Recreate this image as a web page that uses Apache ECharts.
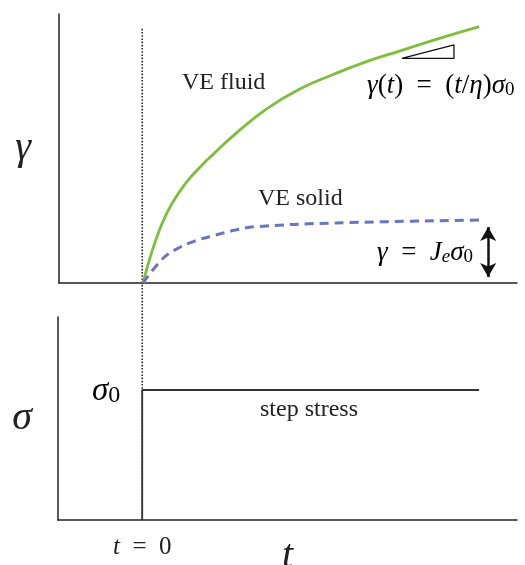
<!DOCTYPE html>
<html><head><meta charset="utf-8">
<script src="https://cdn.jsdelivr.net/npm/echarts@6/dist/echarts.min.js"></script>
<style>html,body{margin:0;padding:0;background:#fff}#c{width:525px;height:565px}</style>
</head><body><div id="c"></div>
<script>
// ---- data ----
const fluidT     = [0, 0.143, 0.30, 0.50, 0.70, 0.84, 1.075, 1.47, 1.87, 2.27, 2.66, 3.06, 3.46, 4.0];
const fluidGamma = [0, 1.52, 2.70, 3.68, 4.38, 4.80, 5.48, 6.47, 7.22, 7.76, 8.23, 8.63, 9.03, 9.53];
const solidT     = [0, 0.22, 0.38, 0.60, 0.86, 1.10, 1.33, 2.26, 4.0];
const solidGamma = [0, 0.86, 1.23, 1.54, 1.78, 1.97, 2.09, 2.23, 2.34];
const stressT     = [0, 0, 4.0];
const stressSigma = [0, 1, 1];
const slopeT     = [3.08, 3.70, 3.70, 3.08];
const slopeGamma = [8.35, 8.35, 8.85, 8.35];
const startT     = [0, 0];
const startSigma = [0, 3.78];
const arrowT     = [4.107, 4.107];
const arrowGamma = [0.22, 2.08];
const tickValues = [0];

const zip = (a, b) => a.map((v, i) => [v, b[i]]);
const SERIF = '"Liberation Serif", "DejaVu Serif", serif';
const INK = '#222';
const mathRich = (fs) => ({
  i: { fontFamily: SERIF, fontStyle: 'italic', fontSize: fs, lineHeight: fs + 6, color: INK, verticalAlign: 'bottom' },
  r: { fontFamily: SERIF, fontSize: fs, lineHeight: fs + 6, color: INK, verticalAlign: 'bottom' },
  s: { fontFamily: SERIF, fontSize: Math.round(fs * 0.72), lineHeight: Math.round(fs * 0.5), color: INK, verticalAlign: 'bottom' },
  si: { fontFamily: SERIF, fontStyle: 'italic', fontSize: Math.round(fs * 0.72), lineHeight: Math.round(fs * 0.5), color: INK, verticalAlign: 'bottom' }
});

const chart = echarts.init(document.getElementById('c'), null, { renderer: 'canvas' });
const axisLine = { show: true, onZero: false, lineStyle: { color: INK, width: 1.5 } };
const hidden = { axisTick: { show: false }, splitLine: { show: false } };

chart.setOption({
  animation: false,
  backgroundColor: '#fff',
  grid: [
    { left: 59, top: 14, right: 8, height: 269, outerBoundsMode: 'none', containLabel: false },
    { left: 58, top: 317, right: 8, height: 203, outerBoundsMode: 'none', containLabel: false }
  ],
  xAxis: [
    Object.assign({ gridIndex: 0, type: 'value', min: -1, max: 4.45, axisLine, axisLabel: { show: false } }, hidden),
    Object.assign({ gridIndex: 1, type: 'value', min: -1, max: 4.45, axisLine,
      name: 't', nameLocation: 'middle', nameGap: 16, nameMoveOverlap: false,
      nameTextStyle: { fontFamily: SERIF, fontStyle: 'italic', fontSize: 40, color: INK },
      axisLabel: { show: true, customValues: tickValues, margin: 9,
        formatter: () => '{i|t}{r|  =  0}', rich: mathRich(25) } }, hidden)
  ],
  yAxis: [
    Object.assign({ gridIndex: 0, type: 'value', min: 0, max: 10, axisLine, axisLabel: { show: false },
      name: 'γ', nameLocation: 'middle', nameRotate: 0, nameGap: 28,
      nameTextStyle: { fontFamily: SERIF, fontStyle: 'italic', fontSize: 40, color: INK } }, hidden),
    Object.assign({ gridIndex: 1, type: 'value', min: 0, max: 1.5615, axisLine, axisLabel: { show: false },
      name: 'σ', nameLocation: 'middle', nameRotate: 0, nameGap: 26,
      nameTextStyle: { fontFamily: SERIF, fontStyle: 'italic', fontSize: 40, color: INK } }, hidden)
  ],
  series: [
    { type: 'line', xAxisIndex: 1, yAxisIndex: 1, data: zip(startT, startSigma), clip: false,
      showSymbol: false, silent: true, lineStyle: { color: '#111', width: 1.4, type: [1.6, 1.6] } },
    { type: 'line', xAxisIndex: 1, yAxisIndex: 1, data: zip(stressT, stressSigma),
      showSymbol: false, silent: true, lineStyle: { color: '#333', width: 1.8 } },
    { type: 'line', xAxisIndex: 0, yAxisIndex: 0, data: zip(fluidT, fluidGamma), smooth: 0.45,
      showSymbol: false, silent: true, lineStyle: { color: '#7DBF3B', width: 2.8 } },
    { type: 'line', xAxisIndex: 0, yAxisIndex: 0, data: zip(solidT, solidGamma), smooth: 0.4,
      showSymbol: false, silent: true, lineStyle: { color: '#6B73C3', width: 3, type: [9, 6] },
      markLine: { silent: true, symbol: ['arrow', 'arrow'], symbolSize: [12, 14], label: { show: false },
        lineStyle: { color: '#111', width: 2.5, type: 'solid' },
        data: [[{ coord: [arrowT[0], arrowGamma[0]] }, { coord: [arrowT[1], arrowGamma[1]] }]] } },
    { type: 'line', xAxisIndex: 0, yAxisIndex: 0, data: zip(slopeT, slopeGamma),
      showSymbol: false, silent: true, lineStyle: { color: '#111', width: 1.3 } }
  ],
  graphic: [
    { type: 'text', x: 182, y: 83, style: { text: 'VE fluid', font: '24px ' + SERIF, fill: INK, verticalAlign: 'middle' } },
    { type: 'text', x: 258, y: 199, style: { text: 'VE solid', font: '24px ' + SERIF, fill: INK, verticalAlign: 'middle' } },
    { type: 'text', x: 260, y: 410, style: { text: 'step stress', font: '24px ' + SERIF, fill: INK, verticalAlign: 'middle' } },
    { type: 'text', x: 367, y: 83, style: { text: '{i|γ}{r|(}{i|t}{r|)  =  (}{i|t}{r|/}{i|η}{r|)}{i|σ}{s|0}', rich: mathRich(27), verticalAlign: 'middle' } },
    { type: 'text', x: 377, y: 250, style: { text: '{i|γ}{r|  =  }{i|J}{si|e}{i|σ}{s|0}', rich: mathRich(27), verticalAlign: 'middle' } },
    { type: 'text', x: 92, y: 388, style: { text: '{i|σ}{s|0}', rich: mathRich(33), verticalAlign: 'middle' } }
  ]
});
</script>
</body></html>
